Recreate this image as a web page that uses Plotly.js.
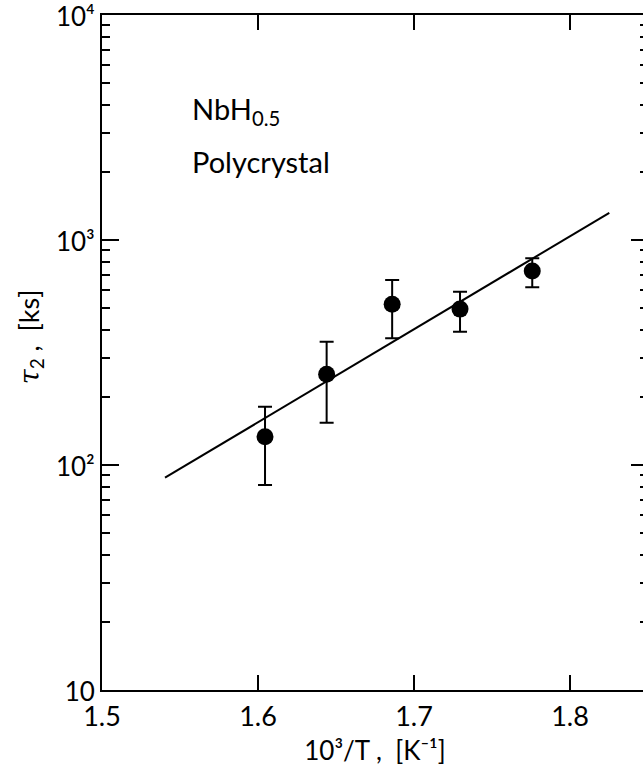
<!DOCTYPE html>
<html>
<head>
<meta charset="utf-8">
<script src="https://cdn.plot.ly/plotly-3.0.1.min.js"></script>
<style>
html, body { margin:0; padding:0; background:#fff; overflow:hidden; }
#chart { width:648px; height:770px; }
</style>
</head>
<body>
<div id="chart"></div>
<script>
// Data
var invT      = [1.6045, 1.644, 1.686, 1.7295, 1.7758];   // 10^3/T [K^-1]
var tau2      = [133.6, 253, 518, 493, 728];               // tau_2 [ks]
var tau2Upper = [181.5, 353, 664, 589, 829];               // error bar top
var tau2Lower = [81.5, 154, 366, 391, 617];                // error bar bottom
var fitX      = [1.5404, 1.8252];
var fitY      = [87.8, 1321];
var yTickVals = [10, 100, 1000, 10000];
var yTickText = ['10', '10²', '10³', '10⁴'];

var errPlus  = tau2.map(function(v, i){ return tau2Upper[i] - v; });
var errMinus = tau2.map(function(v, i){ return v - tau2Lower[i]; });

var minorVals = [];
for (var e = 1; e < 4; e++) {
  for (var d = 2; d <= 9; d++) minorVals.push(d * Math.pow(10, e));
}

var FONT = 'Lato, "DejaVu Sans", sans-serif';

var traces = [
  {
    x: fitX, y: fitY, mode: 'lines', type: 'scatter',
    line: {color: '#000', width: 2}, hoverinfo: 'skip'
  },
  {
    x: invT, y: tau2, mode: 'markers', type: 'scatter',
    marker: {color: '#000', size: 17},
    error_y: {type: 'data', symmetric: false, array: errPlus, arrayminus: errMinus,
              color: '#000', thickness: 2, width: 7}
  }
];

var layout = {
  width: 648, height: 770,
  margin: {l: 102, r: 0, t: 15, b: 80},
  paper_bgcolor: '#fff', plot_bgcolor: '#fff',
  showlegend: false,
  font: {family: FONT, color: '#000', size: 27},
  xaxis: {
    range: [1.5, 1.85], tickmode: 'linear', tick0: 1.5, dtick: 0.1,
    ticks: 'inside', ticklen: 15, tickwidth: 2, tickcolor: '#000',
    showline: true, linecolor: '#000', linewidth: 2, mirror: 'ticks',
    showgrid: false, zeroline: false, ticklabeloverflow: 'allow',
    ticklabelstandoff: 2,
    tickfont: {family: FONT, size: 27, color: '#000'},
    title: {text: '10³/T ,  [K⁻¹]', font: {family: FONT, size: 26, color: '#000'}, standoff: 10}
  },
  yaxis: {
    type: 'log', range: [1, 4.0001],
    tickmode: 'array', tickvals: yTickVals, ticktext: yTickText,
    ticks: 'inside', ticklen: 17, tickwidth: 2, tickcolor: '#000',
    minor: {tickmode: 'array', tickvals: minorVals, ticks: 'inside', ticklen: 8, tickwidth: 2, tickcolor: '#000', showgrid: false},
    showline: true, linecolor: '#000', linewidth: 2, mirror: 'ticks',
    showgrid: false, zeroline: false, ticklabeloverflow: 'allow',
    ticklabelshift: 2,
    tickfont: {family: FONT, size: 26, color: '#000'}
  },
  annotations: [
    {xref: 'paper', yref: 'paper', x: 0.161, y: 0.858, xanchor: 'left', yanchor: 'middle',
     text: 'NbH<sub>0.5</sub>', showarrow: false, font: {family: FONT, size: 29, color: '#000'}},
    {xref: 'paper', yref: 'paper', x: 0.161, y: 0.783, xanchor: 'left', yanchor: 'middle',
     text: 'Polycrystal', showarrow: false, font: {family: FONT, size: 29, color: '#000'}},
    {xref: 'paper', yref: 'paper', x: -0.132, y: 0.524, xanchor: 'center', yanchor: 'middle',
     textangle: -90,
     text: '<span style="font-family:\'DejaVu Serif\',serif;font-style:italic">τ</span><sub>2</sub> ,  [ks]',
     showarrow: false, font: {family: FONT, size: 27, color: '#000'}}
  ]
};

Plotly.newPlot('chart', traces, layout, {displayModeBar: false, staticPlot: true});
</script>
</body>
</html>
